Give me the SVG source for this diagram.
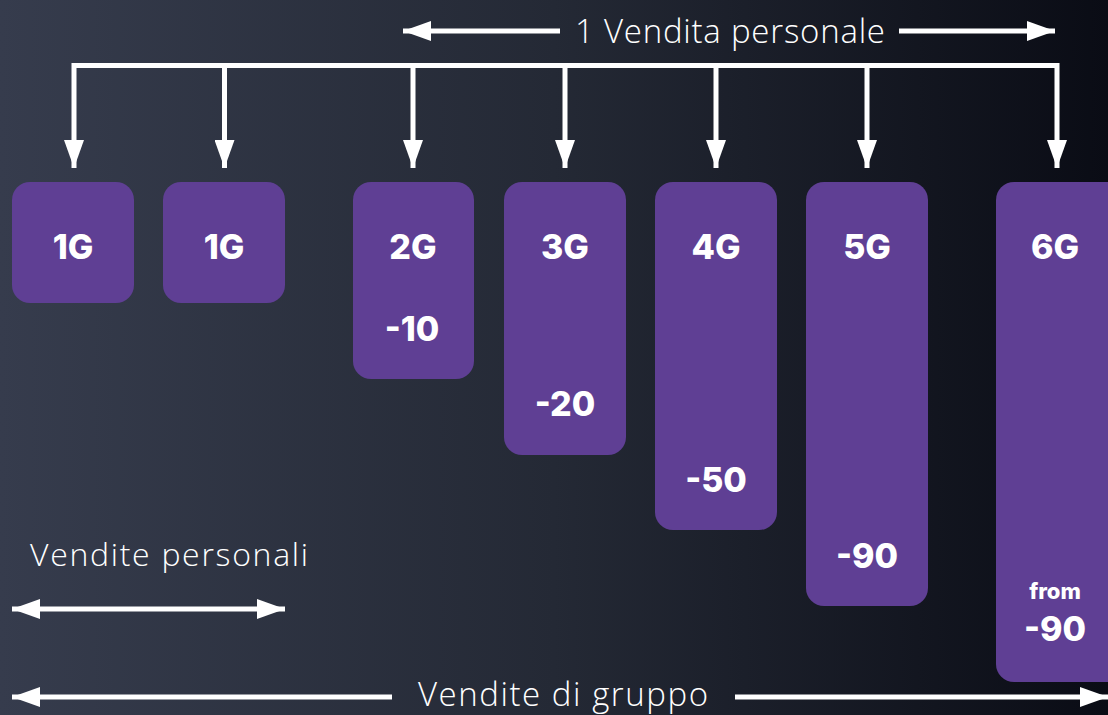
<svg xmlns="http://www.w3.org/2000/svg" width="1108" height="715" viewBox="0 0 1108 715">
<defs>
<linearGradient id="bg" x1="0" y1="0" x2="1" y2="0">
<stop offset="0" stop-color="#363c4d"/>
<stop offset="0.5" stop-color="#242935"/>
<stop offset="1" stop-color="#0a0c15"/>
</linearGradient>
<marker id="ah" viewBox="0 0 28 20" refX="28" refY="10" markerWidth="28" markerHeight="20" markerUnits="userSpaceOnUse" orient="auto-start-reverse">
<path d="M0,0 L28,10 L0,20 Z" fill="#ffffff"/>
</marker>
<style>
.box{fill:#5f3f94}
.lbl{font-family:Inter,"Noto Sans",sans-serif;font-weight:800;fill:#ffffff;text-anchor:middle}
.big{font-size:34px}
.sm{font-size:22px}
.cap{font-family:"Open Sans","Noto Sans",sans-serif;font-weight:300;fill:#ffffff;font-size:33px}
.ln{stroke:#ffffff;stroke-width:5;fill:none}
</style>
</defs>
<rect x="0" y="0" width="1108" height="715" fill="url(#bg)"/>
<g id="connectors">
<path class="ln" d="M74,168 V65.5 H1057 V168" marker-end="url(#ah)" marker-start="url(#ah)"/>
<line class="ln" x1="224.5" y1="65.5" x2="224.5" y2="168" marker-end="url(#ah)"/>
<line class="ln" x1="413" y1="65.5" x2="413" y2="168" marker-end="url(#ah)"/>
<line class="ln" x1="565" y1="65.5" x2="565" y2="168" marker-end="url(#ah)"/>
<line class="ln" x1="716" y1="65.5" x2="716" y2="168" marker-end="url(#ah)"/>
<line class="ln" x1="867" y1="65.5" x2="867" y2="168" marker-end="url(#ah)"/>
<line class="ln" x1="560" y1="31" x2="403" y2="31" marker-end="url(#ah)"/>
<line class="ln" x1="899" y1="31" x2="1055" y2="31" marker-end="url(#ah)"/>
<line class="ln" x1="12" y1="609" x2="285" y2="609" marker-end="url(#ah)" marker-start="url(#ah)"/>
<line class="ln" x1="392" y1="697" x2="12" y2="697" marker-end="url(#ah)"/>
<line class="ln" x1="735" y1="697" x2="1108" y2="697" marker-end="url(#ah)"/>
</g>
<g id="n1"><rect class="box" x="12" y="182" width="122" height="121" rx="18"/><text class="lbl big" x="73" y="259">1G</text></g>
<g id="n2"><rect class="box" x="163" y="182" width="122" height="121" rx="18"/><text class="lbl big" x="224" y="259">1G</text></g>
<g id="n3"><rect class="box" x="353" y="182" width="121" height="197" rx="18"/><text class="lbl big" x="413" y="259">2G</text><text class="lbl big" x="412" y="341">-10</text></g>
<g id="n4"><rect class="box" x="504" y="182" width="122" height="273" rx="18"/><text class="lbl big" x="565" y="259">3G</text><text class="lbl big" x="565" y="416">-20</text></g>
<g id="n5"><rect class="box" x="655" y="182" width="122" height="348" rx="18"/><text class="lbl big" x="716" y="259">4G</text><text class="lbl big" x="716" y="492">-50</text></g>
<g id="n6"><rect class="box" x="806" y="182" width="122" height="424" rx="18"/><text class="lbl big" x="867" y="259">5G</text><text class="lbl big" x="867" y="568">-90</text></g>
<g id="n7"><rect class="box" x="996" y="182" width="140" height="500" rx="18"/><text class="lbl big" x="1055" y="259">6G</text><text class="lbl sm" x="1055" y="599">from</text><text class="lbl big" x="1055" y="641">-90</text></g>
<g id="labels">
<text class="cap" x="575" y="43" textLength="310">1 Vendita personale</text>
<text class="cap" x="30" y="566" textLength="278" style="font-size:32px">Vendite personali</text>
<text class="cap" x="418" y="706" textLength="290">Vendite di gruppo</text>
</g>
</svg>
